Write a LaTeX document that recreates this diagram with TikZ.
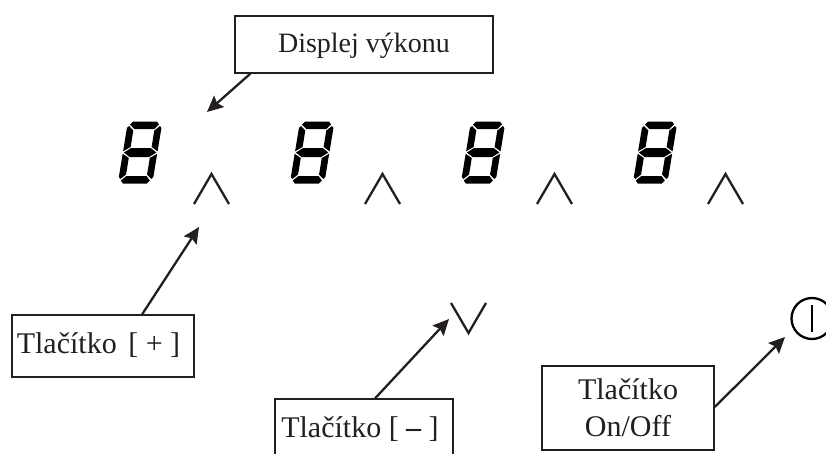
\documentclass[tikz,border=0pt]{standalone}
\usepackage{fontspec}
\setmainfont{Liberation Serif}
\usetikzlibrary{arrows.meta}
\definecolor{ink}{HTML}{231F20}
\tikzset{
  x=1pt,y=-1pt,
  labelbox/.style={draw=ink,line width=1.6pt,fill=white,inner sep=0pt,text=ink,
    font=\fontsize{30}{37}\selectfont,align=center},
  oneline/.style={text height=20pt,text depth=4.5pt},
  pointer/.style={draw=ink,line width=2.3pt,-{Stealth[length=16pt,width=15pt,inset=2.5pt]}},
  keymark/.style={draw=ink,line width=2.3pt,miter limit=10},
  seg/.style={fill=black,draw=none},
  digit/.pic={
    \begin{scope}[cm={1,0,0.165,1,(0,0)}]
      \fill[seg] (5,0)--(29,0)--(31.5,3)--(27.5,7.5)--(7.5,7.5)--(2.5,3)--cycle;
      \fill[seg] (1,31)--(7.5,26.5)--(27,26.5)--(33.5,31)--(27,35.5)--(7.5,35.5)--cycle;
      \fill[seg] (5,62)--(29,62)--(31.5,59)--(27.5,54.5)--(7.5,54.5)--(2.5,59)--cycle;
      \fill[seg] (0,6.5)--(1.8,4.5)--(6.8,9)--(6.8,25.5)--(0,29.8)--cycle;
      \fill[seg] (0,32.2)--(6.8,36.5)--(6.8,53)--(1.8,57.5)--(0,55.5)--cycle;
      \fill[seg] (34.5,6.5)--(32.7,4.5)--(27.8,9)--(27.8,25.5)--(34.5,29.8)--cycle;
      \fill[seg] (34.5,32.2)--(27.8,36.5)--(27.8,53)--(32.7,57.5)--(34.5,55.5)--cycle;
    \end{scope}
  },
  upkey/.pic={\draw[keymark] (-17.5,30)--(0,0)--(17.5,30);},
  downkey/.pic={\draw[keymark] (-17.5,0)--(0,30)--(17.5,0);}
}
\begin{document}
\begin{tikzpicture}
\useasboundingbox (0,0) rectangle (826,453);
\clip (0,0) rectangle (826,453);
\fill[white] (0,0) rectangle (826,453);
% digits
\pic at (128,121.5) {digit};
\pic at (300,121.5) {digit};
\pic at (471,121.5) {digit};
\pic at (643,121.5) {digit};
% keys
\pic at (211.5,174) {upkey};
\pic at (382.5,174) {upkey};
\pic at (554.5,174) {upkey};
\pic at (725.5,174) {upkey};
\pic at (468.5,303) {downkey};
\node[circle,draw=black,line width=2.3pt,minimum size=41pt,inner sep=0pt] (onoff) at (812,318.5) {};
\draw[line width=1.8pt,draw=black] ([yshift=13.5pt]onoff.center) -- ([yshift=-13.5pt]onoff.center);
% labels
\node[labelbox,oneline,font=\fontsize{28}{37}\selectfont,minimum width=258pt,minimum height=57pt] (disp) at (364,44.5) {Displej výkonu};
\node[labelbox,oneline,minimum width=182pt,minimum height=62pt] (plus) at (103,346) {Tlačítko\kern4pt{} [ + ]\kern9pt};
\node[labelbox,oneline,minimum width=178pt,minimum height=62pt] (minus) at (364,430) {Tlačítko [ {\bfseries –} ]\kern8pt};
\node[labelbox,minimum width=172pt,minimum height=84pt] (power) at (628,408) {Tlačítko\\On/Off};
% targets
\coordinate (tdisp) at (207,112);
\coordinate (tplus) at (199,227);
\coordinate (tminus) at (449,319);
\coordinate (tpower) at (785,337);
% connectors
\draw[pointer] ([xshift=16pt]disp.south west) -- (tdisp);
\draw[pointer] ([xshift=131pt]plus.north west) -- (tplus);
\draw[pointer] ([xshift=101pt]minus.north west) -- (tminus);
\draw[pointer] ([yshift=1pt]power.east) -- (tpower);
\end{tikzpicture}
\end{document}
